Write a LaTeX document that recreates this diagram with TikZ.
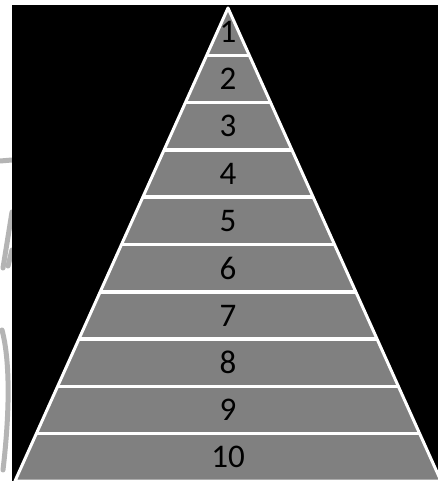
\documentclass[tikz,border=0pt]{standalone}
\usepackage{fontspec}
\setmainfont{Carlito}
\usetikzlibrary{calc}
\definecolor{pyrGray}{HTML}{808080}
\definecolor{scanGray}{HTML}{B4B4B4}

\begin{document}
\begin{tikzpicture}[x=1pt,y=-1pt,
    band/.style={white,line width=3.5pt},
    rim/.style={draw=white,fill=pyrGray,line width=3pt,line join=round},
    lvl/.style={font=\fontsize{33}{38}\selectfont,text=black,inner sep=0pt},
    smudge/.style={scanGray,line width=5pt,line cap=round}]
  \useasboundingbox (0,0) rectangle (438,481);
  \fill[white] (0,0) rectangle (438,481);
  % faint scan marks on the left margin
  \draw[smudge] (0,161) -- (12,160);
  \draw[smudge] (3,268) -- (12,212);
  \draw[smudge] (8,266) -- (12,250);
  \draw[smudge] (2,330) .. controls (10,360) and (10,410) .. (3,470);
  \fill[black] (12,5) rectangle (438,481);
  % pyramid
  \coordinate (apex) at (228,8);
  \coordinate (bl) at (15,481);
  \coordinate (br) at (441,481);
  \coordinate (bm) at (228,481);
  \draw[rim] (apex) -- (bl) -- (br) -- cycle;
  \foreach \i in {1,...,9}
    \draw[band] ($(apex)!\i/10!(bl)$) -- ($(apex)!\i/10!(br)$);
  \foreach \i in {1,...,10}
    \node[lvl] (l\i) at ($(apex)!{(\i-0.5)/10}!(bm)$) {\i};
\end{tikzpicture}
\end{document}
